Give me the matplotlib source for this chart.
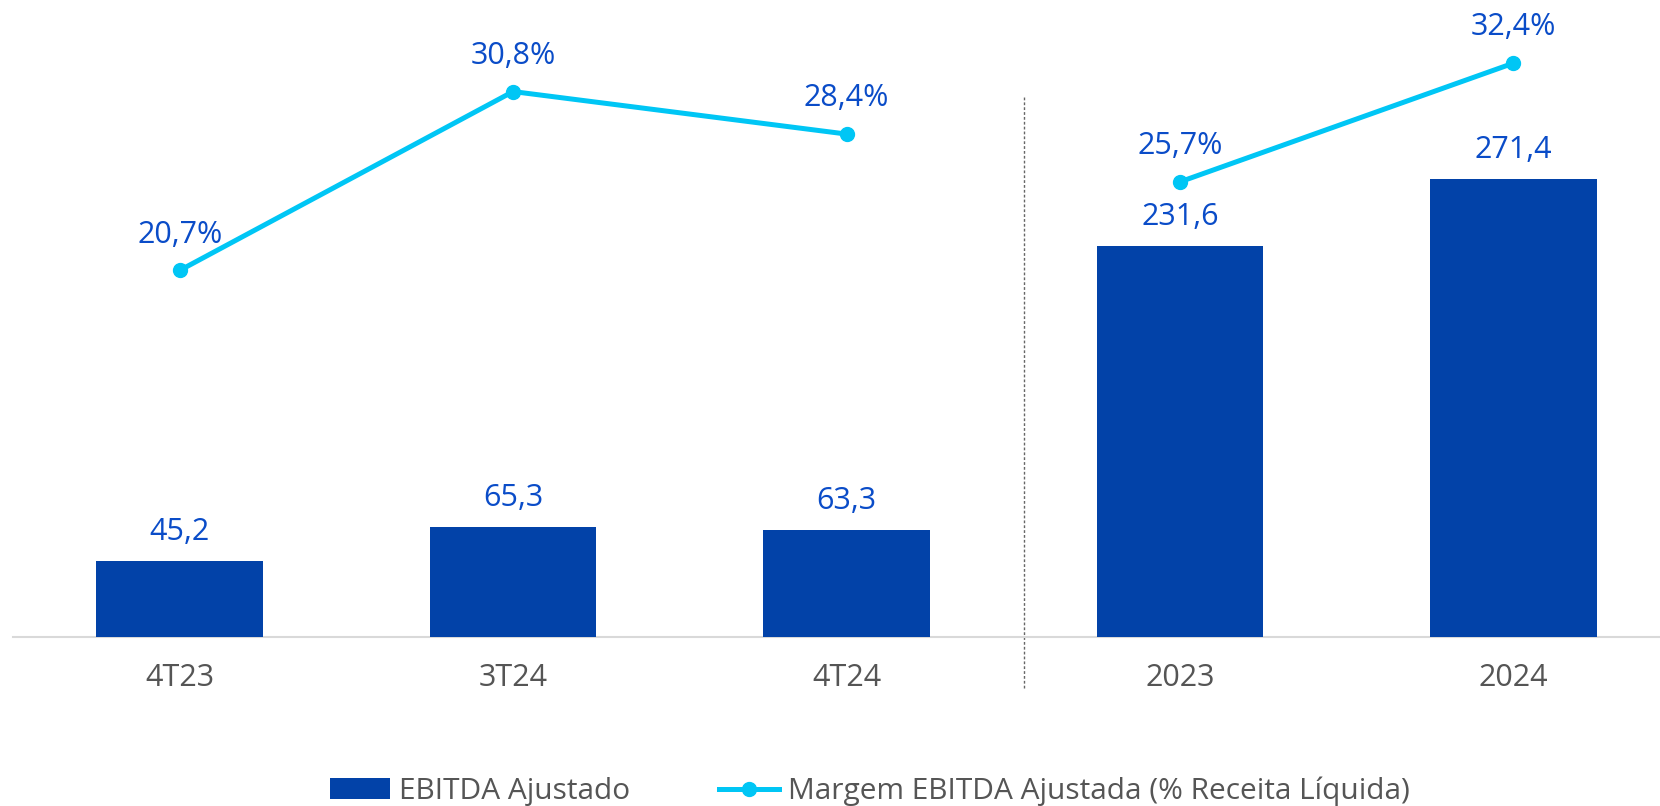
import numpy as np
import matplotlib
matplotlib.use("Agg")
import matplotlib.pyplot as plt
from matplotlib.patches import Patch
from matplotlib.lines import Line2D

# ── Paleta ──────────────────────────────────────────────
BAR_COLOR = "#0242a8"
LINE_COLOR = "#00c6f5"
LABEL_BLUE = "#0a4cc8"
TICK_GRAY = "#555555"
AXIS_GRAY = "#d9d9d9"

plt.rcParams["font.family"] = ["Open Sans", "DejaVu Sans"]

# ── Dados ──────────────────────────────────────────────
categorias = ["4T23", "3T24", "4T24", "2023", "2024"]
ebitda = [45.2, 65.3, 63.3, 231.6, 271.4]
margem = [20.7, 30.8, 28.4, 25.7, 32.4]
# trimestres e anos são séries separadas da linha
grupos_linha = [[0, 1, 2], [3, 4]]


def fmt_br(v, dec=1, suf=""):
    return f"{v:.{dec}f}".replace(".", ",") + suf


fig = plt.figure(figsize=(16.6, 8.06), dpi=100)
ax = fig.add_axes([13 / 1660, 1 - 637 / 806, 1647 / 1660, 637 / 806])
ax2 = ax.twinx()

x = np.arange(len(categorias))
bars = ax.bar(x, ebitda, width=0.5, color=BAR_COLOR, zorder=3)

ax.set_xlim(-0.5, 4.44)
ax.set_ylim(0, 377.6)
ax2.set_ylim(0, 35.97)

for a in (ax, ax2):
    for s in a.spines.values():
        s.set_visible(False)
    a.set_yticks([])
ax.spines["bottom"].set_visible(True)
ax.spines["bottom"].set_color(AXIS_GRAY)
ax.spines["bottom"].set_linewidth(1.5)

ax.set_xticks(x)
ax.set_xticklabels(categorias, fontsize=22, color=TICK_GRAY)
ax.tick_params(axis="x", length=0, pad=19)

for xi, v in zip(x, ebitda):
    ax.annotate(fmt_br(v), (xi, v), xytext=(0, 10), textcoords="offset points",
                ha="center", va="bottom", fontsize=22, color=LABEL_BLUE)

for g in grupos_linha:
    ax2.plot(x[g], [margem[i] for i in g], color=LINE_COLOR, lw=3.6,
             marker="o", markersize=10, zorder=4, solid_capstyle="round")
for xi, m in zip(x, margem):
    ax2.annotate(fmt_br(m, suf="%"), (xi, m), xytext=(0, 15), textcoords="offset points",
                 ha="center", va="bottom", fontsize=22, color=LABEL_BLUE)

# divisória tracejada entre trimestres e anos
ax.plot([2.533, 2.533], [-0.08, 0.85], transform=ax.get_xaxis_transform(),
        color="#666666", lw=1, ls=(0, (2, 1.5)), clip_on=False, zorder=2)

handles = [
    Patch(facecolor=BAR_COLOR, label="EBITDA Ajustado"),
    Line2D([0], [0], color=LINE_COLOR, lw=3.6, marker="o", markersize=10,
           label="Margem EBITDA Ajustada (% Receita Líquida)"),
]
fig.legend(handles=handles, loc="center", bbox_to_anchor=(0.524, 0.018), ncol=2,
           frameon=False, fontsize=21.5, labelcolor=TICK_GRAY, handlelength=2.0,
           handletextpad=0.3, columnspacing=3.0)

fig.savefig("out.png", dpi=100, facecolor="white")
